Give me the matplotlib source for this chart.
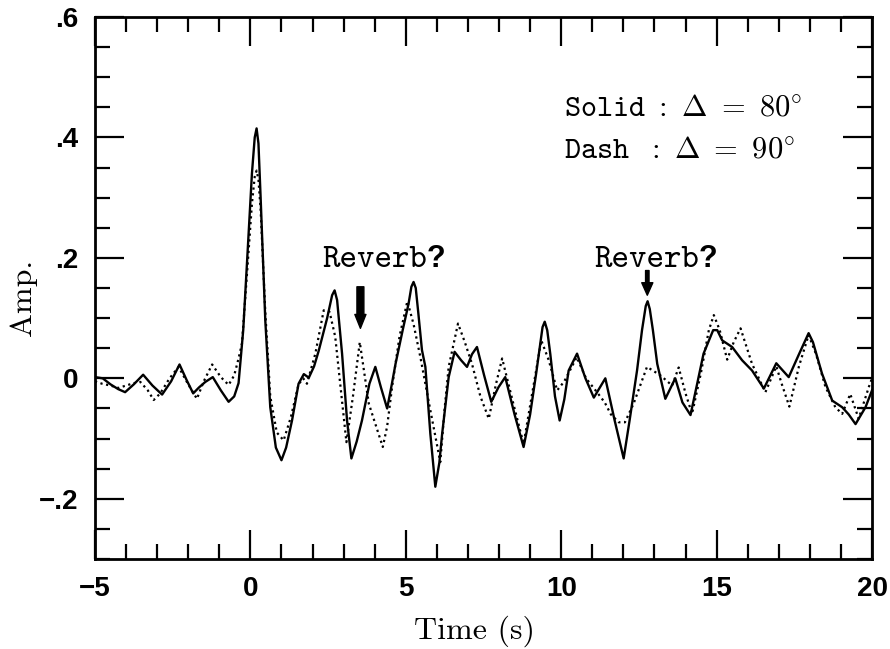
import os
import matplotlib
matplotlib.use("Agg")
import matplotlib.pyplot as plt
from matplotlib.font_manager import FontProperties
from matplotlib.ticker import MultipleLocator

# Solid trace (Delta = 80 deg)
t_solid = [-5.0, -4.75, -4.5, -4.25, -4.03, -3.75, -3.45, -3.15, -2.84, -2.55,
           -2.28, -2.05, -1.84, -1.65, -1.45, -1.21, -0.95, -0.70, -0.52, -0.38,
           -0.23, -0.10, 0.05, 0.14, 0.20, 0.26, 0.33, 0.48, 0.64, 0.82, 1.00, 1.15,
           1.34, 1.55, 1.72, 1.88, 2.05, 2.20, 2.47, 2.63, 2.71, 2.79, 2.95,
           3.11, 3.25, 3.42, 3.59, 3.83, 4.02, 4.20, 4.40, 4.55, 4.67,
           4.90, 5.09, 5.18, 5.25, 5.32, 5.40, 5.52, 5.63, 5.79, 5.95, 6.08, 6.17,
           6.38, 6.57, 6.78, 6.97, 7.13, 7.29, 7.52, 7.75, 7.98, 8.20,
           8.50, 8.79, 9.00, 9.20, 9.40, 9.47, 9.55, 9.65, 9.80, 9.95, 10.10, 10.24,
           10.51, 10.78, 11.05, 11.42, 11.72, 12.01, 12.20, 12.44, 12.60, 12.72, 12.78,
           12.85, 12.95, 13.09, 13.35, 13.67, 13.90, 14.16, 14.35, 14.58, 14.89, 15.02,
           15.18, 15.50, 15.82, 16.14, 16.52, 16.92, 17.32, 17.65, 17.96, 18.10,
           18.39, 18.72, 19.04, 19.25, 19.47, 19.79, 20.0]
a_solid = [0.002, 0.000, -0.010, -0.018, -0.023, -0.010, 0.006, -0.012, -0.027, -0.005,
           0.023, -0.003, -0.025, -0.015, -0.006, 0.002, -0.020, -0.039, -0.030, -0.008,
           0.080, 0.200, 0.340, 0.400, 0.415, 0.390, 0.300, 0.096, -0.048, -0.115, -0.136, -0.115,
           -0.070, -0.009, 0.007, 0.001, 0.020, 0.046, 0.100, 0.138, 0.146, 0.130, 0.041,
           -0.070, -0.133, -0.105, -0.070, -0.009, 0.019, -0.015, -0.050, -0.010, 0.024,
           0.080, 0.124, 0.152, 0.160, 0.150, 0.110, 0.047, 0.019, -0.092, -0.180, -0.140, -0.092,
           0.002, 0.044, 0.030, 0.019, 0.040, 0.052, 0.005, -0.039, -0.015, 0.002,
           -0.060, -0.114, -0.060, 0.010, 0.085, 0.094, 0.080, 0.040, -0.030, -0.070, -0.035, 0.013,
           0.041, 0.000, -0.032, 0.000, -0.070, -0.133, -0.070, 0.013, 0.080, 0.120, 0.128,
           0.115, 0.080, 0.024, -0.034, 0.000, -0.040, -0.061, -0.015, 0.041, 0.080, 0.080,
           0.063, 0.052, 0.030, 0.013, -0.017, 0.025, 0.002, 0.040, 0.075, 0.060,
           0.008, -0.037, -0.048, -0.060, -0.076, -0.048, -0.020]

# Dotted trace (Delta = 90 deg)
t_dash = [-5.0, -4.77, -4.5, -4.25, -4.0, -3.75, -3.54, -3.3, -3.11, -2.9,
          -2.6, -2.31, -2.0, -1.72, -1.5, -1.23, -0.95, -0.70, -0.52, -0.38,
          -0.27, -0.10, 0.05, 0.14, 0.20, 0.26, 0.33, 0.48, 0.64, 0.85, 1.07, 1.30,
          1.55, 1.70, 1.82, 2.09, 2.36, 2.55, 2.73, 2.90, 3.09, 3.30,
          3.52, 3.81, 4.26, 4.40, 4.56, 4.80, 5.05, 5.25, 5.47, 5.79,
          6.11, 6.25, 6.38, 6.68, 6.90, 7.13, 7.40, 7.67, 7.90, 8.10,
          8.45, 8.79, 9.05, 9.36, 9.60, 9.87, 10.10, 10.50, 10.80, 11.15,
          11.40, 11.60, 11.85, 12.05, 12.33, 12.76, 13.19, 13.57, 13.78, 14.00,
          14.21, 14.50, 14.75, 14.91, 15.10, 15.34, 15.55, 15.77, 16.14, 16.57,
          16.92, 17.10, 17.34, 17.65, 17.96, 18.20, 18.50, 18.82, 19.04, 19.30,
          19.57, 19.90, 20.0]
a_dash = [-0.005, -0.009, -0.012, -0.016, -0.012, -0.008, -0.006, -0.020, -0.036, -0.025,
          0.000, 0.019, -0.010, -0.034, -0.005, 0.023, 0.002, -0.011, 0.005, 0.033,
          0.058, 0.180, 0.290, 0.335, 0.345, 0.330, 0.280, 0.110, -0.030, -0.090, -0.103, -0.065,
          -0.010, 0.000, -0.009, 0.041, 0.113, 0.110, 0.069, -0.014, -0.106, -0.030,
          0.060, -0.042, -0.114, -0.080, -0.014, 0.070, 0.128, 0.090, 0.035, -0.053,
          -0.139, -0.050, 0.019, 0.091, 0.060, 0.024, -0.030, -0.067, -0.010, 0.033,
          -0.040, -0.109, -0.030, 0.063, 0.030, -0.020, -0.005, 0.035, 0.000, -0.023,
          -0.040, -0.060, -0.073, -0.073, -0.042, 0.019, 0.005, -0.012, 0.018, -0.025,
          -0.059, 0.010, 0.080, 0.105, 0.080, 0.031, 0.060, 0.083, 0.024, -0.023,
          0.020, -0.010, -0.047, 0.020, 0.072, 0.040, -0.014, -0.048, -0.059, -0.026,
          -0.067, -0.014, 0.000]

x_ticks = [-5, 0, 5, 10, 15, 20]
x_labels = ["\u22125", "0", "5", "10", "15", "20"]
y_ticks = [-0.2, 0.0, 0.2, 0.4, 0.6]
y_labels = ["\u2212.2", "0", ".2", ".4", ".6"]

plt.rcParams["mathtext.fontset"] = "cm"

ttf = os.path.join(matplotlib.get_data_path(), "fonts", "ttf")
roman = FontProperties(fname=os.path.join(ttf, "cmr10.ttf"), size=23)
mono = FontProperties(fname=os.path.join(ttf, "cmtt10.ttf"), size=24)

fig = plt.figure(figsize=(8.9, 6.49), dpi=100)
ax = fig.add_axes([0.1067, 0.1387, 0.8731, 0.8351])

ax.plot(t_solid, a_solid, color="black", lw=1.7, solid_joinstyle="round")
ax.plot(t_dash, a_dash, color="black", lw=1.6, ls=(0, (1, 1.6)))

ax.set_xlim(-5, 20)
ax.set_ylim(-0.3, 0.6)
ax.set_xticks(x_ticks, x_labels)
ax.set_yticks(y_ticks, y_labels)
ax.xaxis.set_minor_locator(MultipleLocator(1))
ax.yaxis.set_minor_locator(MultipleLocator(0.05))
ax.tick_params(which="both", direction="in", top=True, right=True, width=1.6)
ax.tick_params(which="major", length=21, pad=12)
ax.tick_params(which="minor", length=11)
for lab in ax.get_xticklabels() + ax.get_yticklabels():
    lab.set_fontfamily("Liberation Sans")
    lab.set_fontweight("bold")
    lab.set_fontsize(20)
for sp in ax.spines.values():
    sp.set_linewidth(2)

ax.set_xlabel("Time (s)", fontproperties=roman)
ax.set_ylabel("Amp.", fontproperties=roman)
ax.xaxis.set_label_coords(0.488, -0.105)
ax.yaxis.set_label_coords(-0.075, 0.483)

# annotations
ax.text(2.32, 0.185, "Reverb", fontproperties=mono, ha="left", va="baseline")
ax.text(5.66, 0.185, "?", family="Liberation Sans", weight="bold", fontsize=22,
        ha="left", va="baseline")
ax.text(11.07, 0.185, "Reverb", fontproperties=mono, ha="left", va="baseline")
ax.text(14.41, 0.185, "?", family="Liberation Sans", weight="bold", fontsize=22,
        ha="left", va="baseline")
ax.annotate("", xy=(3.54, 0.083), xytext=(3.54, 0.152),
            arrowprops=dict(width=5, headwidth=8, headlength=10, shrink=0, color="black"))
ax.annotate("", xy=(12.77, 0.138), xytext=(12.77, 0.179),
            arrowprops=dict(width=2.5, headwidth=8, headlength=9, shrink=0, color="black"))

ax.text(10.1, 0.437, r"$\mathtt{Solid\ :\ }\Delta\mathtt{\ =\ 80}^{\circ}$",
        fontsize=22, ha="left", va="baseline")
ax.text(10.1, 0.367, r"$\mathtt{Dash\ \ :\ }\Delta\mathtt{\ =\ 90}^{\circ}$",
        fontsize=22, ha="left", va="baseline")

fig.savefig("out.png", dpi=100)
